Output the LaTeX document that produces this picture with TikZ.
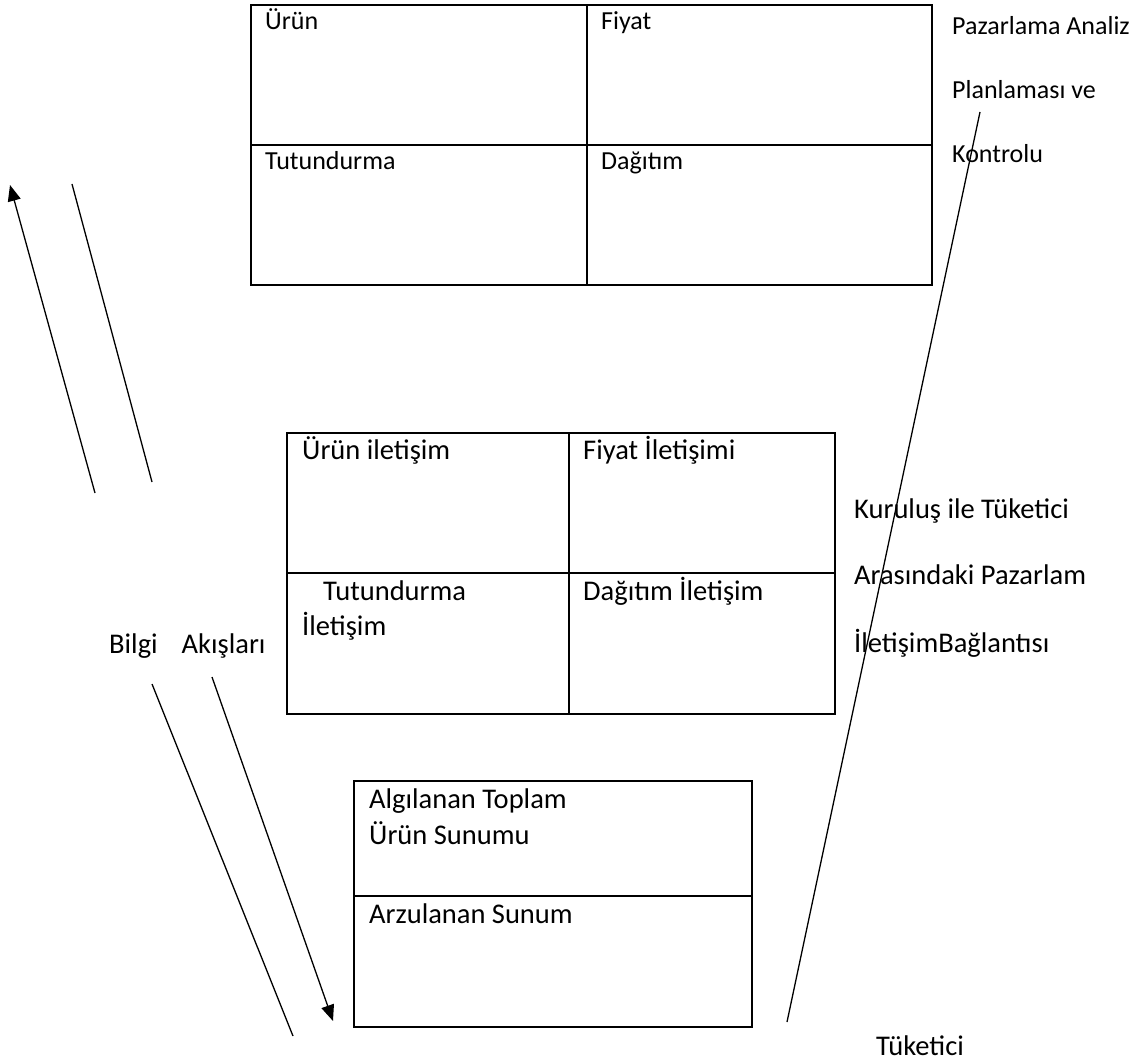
\documentclass[tikz,border=0pt]{standalone}
\usepackage{fontspec}
\setmainfont{Carlito}
\usetikzlibrary{arrows.meta}
\begin{document}
\begin{tikzpicture}[x=1pt,y=-1pt,
  cell/.style={draw, line width=2.2pt, anchor=north west, inner sep=0pt, minimum width=#1},
  txtA/.style={anchor=base west, inner sep=0pt, font=\fontsize{26}{31}\selectfont},
  txtB/.style={anchor=base west, inner sep=0pt, font=\fontsize{28.5}{34}\selectfont},
  flow/.style={line width=1.3pt},
  flowarrow/.style={line width=1.3pt, -{Triangle[length=16pt,width=13pt]}}]
\useasboundingbox (0,0) rectangle (1146,1064);

% marketing mix grid
\node[cell=336pt, minimum height=140pt] (mUrun) at (250,4) {};
\node[cell=345pt, minimum height=140pt] (mFiyat) at (586,4) {};
\node[cell=336pt, minimum height=140pt] (mTut) at (250,144) {};
\node[cell=345pt, minimum height=140pt] (mDag) at (586,144) {};
\node[txtA] (tUrun) at (265,30) {Ürün};
\node[txtA] (tFiyat) at (601,30) {Fiyat};
\node[txtA] (tTut) at (265,170) {Tutundurma};
\node[txtA] (tDag) at (601,170) {Dağıtım};

% communication grid
\node[cell=282pt, minimum height=140pt] (cUrun) at (286,432) {};
\node[cell=266pt, minimum height=140pt] (cFiyat) at (568,432) {};
\node[cell=282pt, minimum height=141pt] (cTut) at (286,572) {};
\node[cell=266pt, minimum height=141pt] (cDag) at (568,572) {};
\node[txtB] (tcUrun) at (302,460) {Ürün iletişim};
\node[txtB] (tcFiyat) at (583,460) {Fiyat İletişimi};
\node[txtB] (tcTut1) at (323,600) {Tutundurma};
\node[txtB] (tcTut2) at (302,635) {İletişim};
\node[txtB] (tcDag) at (583,600) {Dağıtım İletişim};

% consumer offer box
\node[cell=398pt, minimum height=115pt] (oAlg) at (353,780) {};
\node[cell=398pt, minimum height=131pt] (oArz) at (353,895) {};
\node[txtB] (toAlg1) at (369,808) {Algılanan Toplam};
\node[txtB] (toAlg2) at (369,844) {Ürün Sunumu};
\node[txtB] (toArz) at (369,923) {Arzulanan Sunum};

% side labels
\node[txtA] (lPaz1) at (952,35) {Pazarlama Analiz};
\node[txtA] (lPaz2) at (952,99) {Planlaması ve};
\node[txtA] (lPaz3) at (952,163) {Kontrolu};
\node[txtB] (lKur1) at (854,518) {Kuruluş ile Tüketici};
\node[txtB] (lKur2) at (854,584) {Arasındaki Pazarlam};
\node[txtB] (lKur3) at (854,652) {İletişimBağlantısı};
\node[txtB] (lBilgi) at (109,653) {Bilgi\hspace{24pt}Akışları};
\node[txtB] (lTuk) at (876,1055) {Tüketici};

% information flow lines
\coordinate (uA0) at (95,493);
\coordinate (uA1) at (10,185);
\coordinate (uB0) at (72,184);
\coordinate (uB1) at (152,482);
\coordinate (dA0) at (152,684);
\coordinate (dA1) at (293,1036);
\coordinate (dB0) at (212,677);
\coordinate (dB1) at (333,1021);
\coordinate (rL0) at (980,112);
\coordinate (rL1) at (787,1022);

\draw[flowarrow] (uA0) -- (uA1);
\draw[flow] (uB0) -- (uB1);
\draw[flow] (dA0) -- (dA1);
\draw[flowarrow] (dB0) -- (dB1);
\draw[flow] (rL0) -- (rL1);
\end{tikzpicture}
\end{document}
